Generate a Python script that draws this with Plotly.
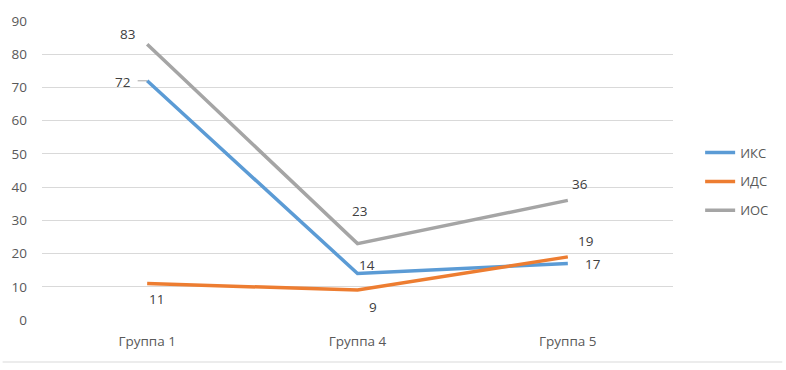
import plotly.graph_objects as go

categories = ["Группа 1", "Группа 4", "Группа 5"]
series_names = ["ИКС", "ИДС", "ИОС"]
iks = [72, 14, 17]
ids = [11, 9, 19]
ios = [83, 23, 36]
colors = ["#5B9BD5", "#ED7D31", "#A5A5A5"]
y_ticks = [0, 10, 20, 30, 40, 50, 60, 70, 80, 90]

# label offsets (pixels) per series per point
label_shifts = {
    "ИКС": [(-25, -1), (9, 8), (25, 0)],
    "ИДС": [(9, -16), (15, -17), (18, 16)],
    "ИОС": [(-20, 10), (2, 33), (12, 16)],
}

fig = go.Figure()
series_vals = [iks, ids, ios]
x_idx = list(range(len(categories)))
for name, vals, col in zip(series_names, series_vals, colors):
    fig.add_trace(go.Scatter(x=x_idx, y=vals, mode="lines", name=name,
                             legendgroup=name,
                             line=dict(color=col, width=3.5)))

for name, vals in zip(series_names, series_vals):
    for i, v in enumerate(vals):
        dx, dy = label_shifts[name][i]
        fig.add_annotation(x=i, y=v, xref="x", yref="y", text=str(v), showarrow=False,
                           xshift=dx, yshift=dy, font=dict(size=13.5, color="#404040"))

# leader line for the 72 label
fig.add_annotation(x=0, y=iks[0], xref="x", yref="y", text="", showarrow=True,
                   arrowhead=0, ax=-11, ay=0, arrowcolor="#A6A6A6", arrowwidth=1)

fig.add_shape(type="line", xref="paper", yref="paper", x0=-40/641, x1=752/641,
              y0=-42/299, y1=-42/299, line=dict(color="#D9D9D9", width=1))

fig.update_layout(
    width=786, height=370,
    margin=dict(l=37, r=108, t=21, b=50),
    paper_bgcolor="white", plot_bgcolor="white",
    font=dict(family="Open Sans, Liberation Sans, sans-serif", size=13.5, color="#595959"),
    showlegend=True,
    legend=dict(x=1.043, y=0.463, xanchor="left", yanchor="middle",
                font=dict(size=13, color="#595959"), tracegroupgap=9,
                itemwidth=30),
    xaxis=dict(tickmode="array", tickvals=x_idx, ticktext=categories,
               range=[-0.5, 2.5], showgrid=False, zeroline=False,
               showline=False, ticks="", ticklabelstandoff=11),
    yaxis=dict(range=[0, 90], tickvals=y_ticks, showgrid=True, gridcolor="#D9D9D9",
               gridwidth=1, zeroline=False, ticks="", ticklabelstandoff=14),
)
fig.write_html("out.html", post_script="document.body.style.margin='0px';",
               config={"displayModeBar": False})
